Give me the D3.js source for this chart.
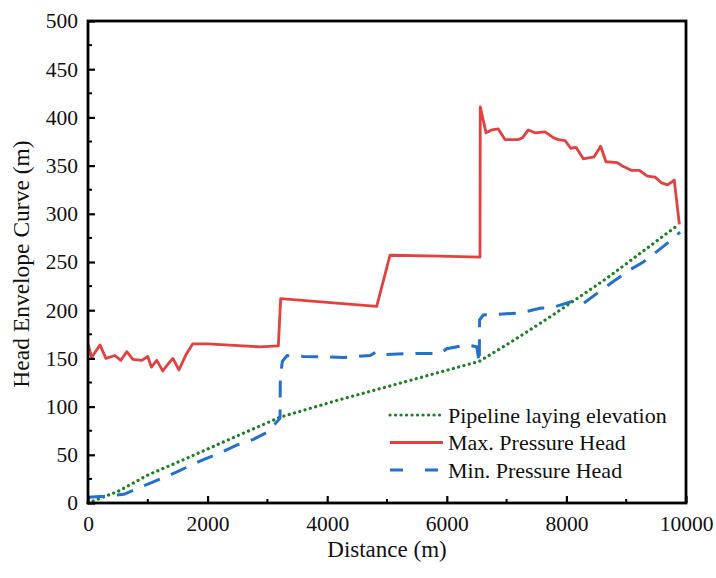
<!DOCTYPE html>
<html>
<head>
<meta charset="utf-8">
<script src="https://cdn.jsdelivr.net/npm/d3@7"></script>
<style>
  body { margin: 0; background: #fff; }
  svg text { font-family: 'Liberation Serif', Tinos, 'Times New Roman', Times, 'DejaVu Serif', serif; fill: #111; }
</style>
</head>
<body>
<svg id="chart" width="716" height="578"></svg>
<script>
// pipeline laying elevation [distance, head]
var pipeline = [[0,0],[500,12],[1000,29],[1600,45],[2400,67],[3211,89],[4200,107],[5200,124],
    [6544,147],[7100,168],[7726,193],[8673,233],[9342,264],[9880,289]];

// max. pressure head
var maxHead = [[0,165],[60,151],[200,164],[300,150],[450,153],[550,148],[650,157],[750,149],[900,148],
    [1000,152],[1060,141],[1150,148],[1250,137],[1350,145],[1420,150],[1520,138],[1640,154],[1750,165],
    [2000,165],[2876,162],[3183,163],[3222,212],[4828,204],[5050,257],[5886,256],[6555,255],
    [6560,411],[6656,384],[6750,387],[6861,388],[6973,377],[7196,377],[7269,379],[7363,387],[7475,384],
    [7642,385],[7781,379],[7865,377],[7977,376],[8071,368],[8161,369],[8283,357],[8462,359],[8573,370],
    [8662,354],[8852,353],[8953,349],[9092,345],[9220,345],[9353,339],[9482,338],[9593,332],[9693,330],
    [9804,335],[9889,289]];

// min. pressure head
var minHead = [[0,6],[268,7],[450,8],[602,9],[786,14],[1093,22],[1371,29],[1650,37],[1929,45],
    [2207,52],[2486,60],[2765,66],[3015,74],[3211,88],[3216,130],[3250,147],[3330,153],[3601,152],
    [4270,151],[4716,153],[4828,157],[4940,154],[5385,155],[5886,155],[5998,160],[6333,164],[6500,162],
    [6544,145],[6548,190],[6611,195],[7224,197],[7559,202],[7781,203],[8088,209],[8283,207],[8590,221],
    [8813,231],[9064,242],[9286,250],[9537,262],[9760,273],[9900,281]];

var xTicks = [0, 2000, 4000, 6000, 8000, 10000];
var yTicks = [0, 50, 100, 150, 200, 250, 300, 350, 400, 450, 500];

var legendItems = ["Pipeline laying elevation", "Max. Pressure Head", "Min. Pressure Head"];

var margin = {left: 88, top: 21, right: 30, bottom: 75};
var width = 686 - margin.left, height = 503 - margin.top;

var svg = d3.select("#chart");
var g = svg.append("g").attr("transform", "translate(" + margin.left + "," + margin.top + ")");

var x = d3.scaleLinear().domain([0, 10000]).range([0, width]);
var y = d3.scaleLinear().domain([0, 500]).range([height, 0]);

var line = d3.line()
    .x(function (d) { return x(d[0]); })
    .y(function (d) { return y(d[1]); });

// series
g.append("path").datum(pipeline)
    .attr("d", line)
    .attr("fill", "none")
    .attr("stroke", "#1a8220")
    .attr("stroke-width", 3.2)
    .attr("stroke-linecap", "round")
    .attr("stroke-dasharray", "0.1,5.4");

g.append("path").datum(maxHead)
    .attr("d", line)
    .attr("fill", "none")
    .attr("stroke", "#e3413f")
    .attr("stroke-width", 2.8)
    .attr("stroke-linejoin", "round");

g.append("path").datum(minHead)
    .attr("d", line)
    .attr("fill", "none")
    .attr("stroke", "#2470cf")
    .attr("stroke-width", 3)
    .attr("stroke-dasharray", "17,12");

// axes, ticks inward
var xAxis = g.append("g")
    .attr("transform", "translate(0," + height + ")")
    .call(d3.axisBottom(x).tickValues(xTicks).tickSize(-7).tickPadding(13).tickFormat(d3.format("d")));
var yAxis = g.append("g")
    .call(d3.axisLeft(y).tickValues(yTicks).tickSize(-7).tickPadding(10));

[xAxis, yAxis].forEach(function (a) {
    a.attr("font-family", null);
    a.select(".domain").remove();
    a.selectAll(".tick line").attr("stroke", "#000").attr("stroke-width", 2.2);
    a.selectAll("text").style("font-size", "21.5px").attr("fill", "#111");
});

// minor ticks
g.selectAll(".minorx")
    .data(d3.range(1000, 10000, 2000))
    .enter().append("line")
    .attr("x1", function (d) { return x(d); })
    .attr("x2", function (d) { return x(d); })
    .attr("y1", height).attr("y2", height - 4)
    .attr("stroke", "#000").attr("stroke-width", 2);

g.selectAll(".minory")
    .data(d3.range(25, 500, 50))
    .enter().append("line")
    .attr("y1", function (d) { return y(d); })
    .attr("y2", function (d) { return y(d); })
    .attr("x1", 0).attr("x2", 4)
    .attr("stroke", "#000").attr("stroke-width", 2);

// frame
g.append("rect")
    .attr("width", width).attr("height", height)
    .attr("fill", "none").attr("stroke", "#000").attr("stroke-width", 2.8);

// axis titles
svg.append("text")
    .attr("x", margin.left + width / 2)
    .attr("y", 557)
    .style("text-anchor", "middle")
    .style("font-size", "23px")
    .text("Distance (m)");

svg.append("text")
    .attr("transform", "translate(29," + (margin.top + height / 2 + 2) + ")rotate(-90)")
    .style("text-anchor", "middle")
    .style("font-size", "23.5px")
    .text("Head Envelope Curve (m)");

// legend
var legend = g.append("g").attr("transform", "translate(302,394)");
var legendStyles = [
    {stroke: "#1a8220", width: 3.2, dash: "0.1,5.4", cap: "round"},
    {stroke: "#e3413f", width: 2.8, dash: null, cap: "butt"},
    {stroke: "#2470cf", width: 3, dash: "13,22", cap: "butt"}
];
legendItems.forEach(function (label, i) {
    var row = legend.append("g").attr("transform", "translate(0," + (i * 27.5) + ")");
    row.append("line")
        .attr("x1", 0).attr("x2", 53)
        .attr("stroke", legendStyles[i].stroke)
        .attr("stroke-width", legendStyles[i].width)
        .attr("stroke-linecap", legendStyles[i].cap)
        .attr("stroke-dasharray", legendStyles[i].dash);
    row.append("text")
        .attr("x", 58).attr("y", 0).attr("dy", "0.35em")
        .style("font-size", "22px")
        .text(label);
});
</script>
</body>
</html>
